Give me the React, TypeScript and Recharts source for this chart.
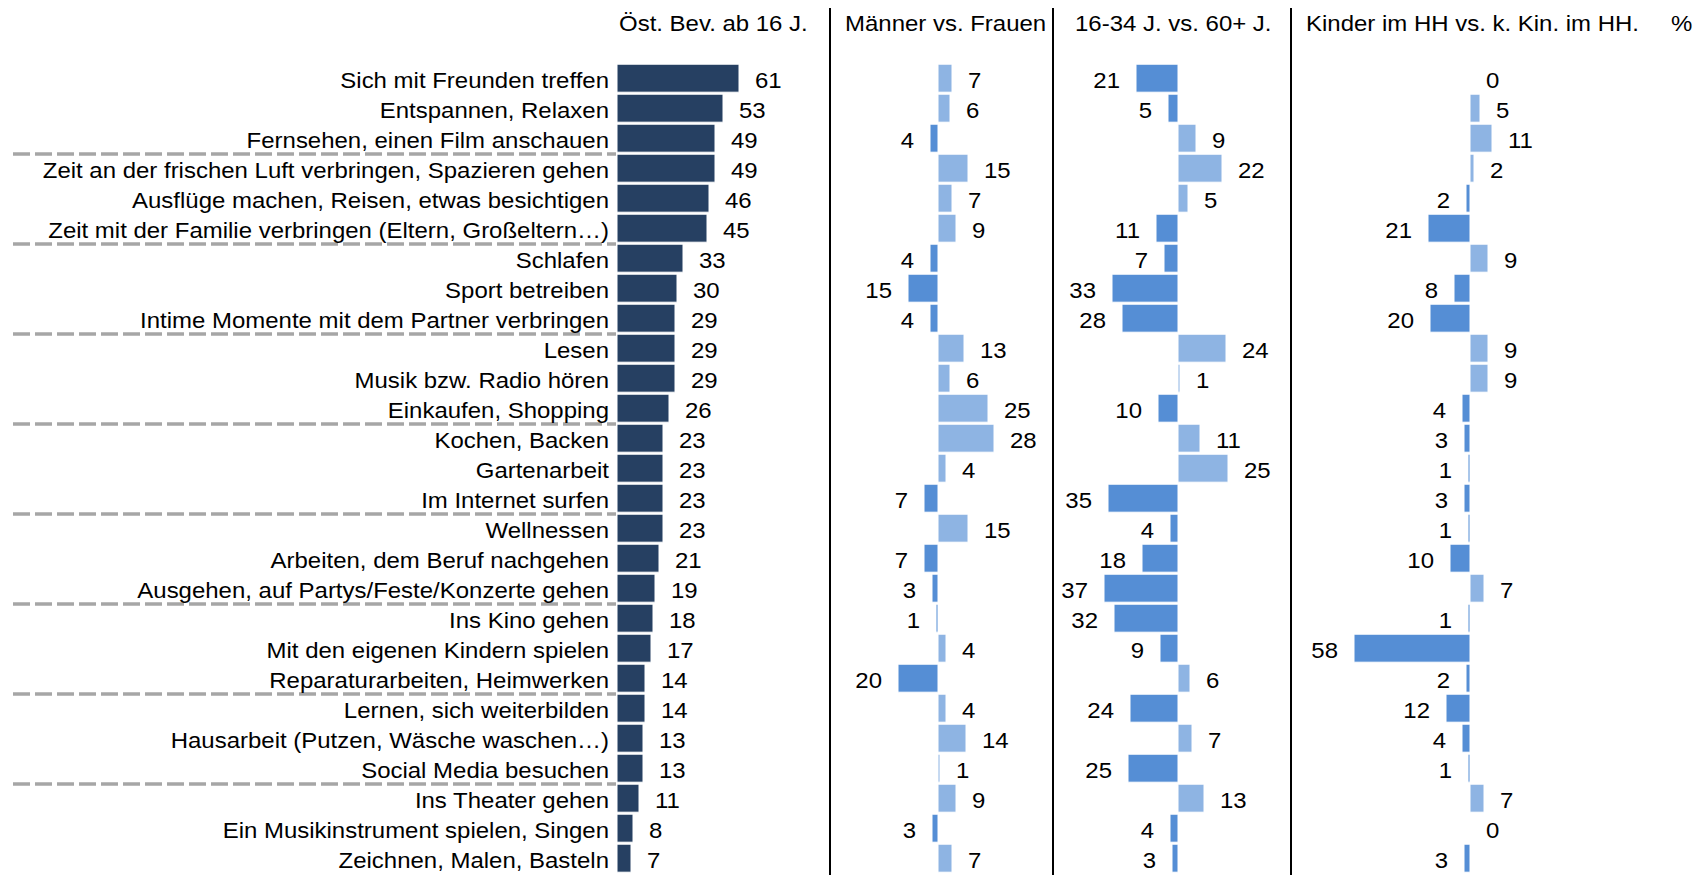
import { ComposedChart, Bar, Line, XAxis, YAxis, Cell, LabelList } from 'recharts';

const categories = [
  'Sich mit Freunden treffen',
  'Entspannen, Relaxen',
  'Fernsehen, einen Film anschauen',
  'Zeit an der frischen Luft verbringen, Spazieren gehen',
  'Ausflüge machen, Reisen, etwas besichtigen',
  'Zeit mit der Familie verbringen (Eltern, Großeltern…)',
  'Schlafen',
  'Sport betreiben',
  'Intime Momente mit dem Partner verbringen',
  'Lesen',
  'Musik bzw. Radio hören',
  'Einkaufen, Shopping',
  'Kochen, Backen',
  'Gartenarbeit',
  'Im Internet surfen',
  'Wellnessen',
  'Arbeiten, dem Beruf nachgehen',
  'Ausgehen, auf Partys/Feste/Konzerte gehen',
  'Ins Kino gehen',
  'Mit den eigenen Kindern spielen',
  'Reparaturarbeiten, Heimwerken',
  'Lernen, sich weiterbilden',
  'Hausarbeit (Putzen, Wäsche waschen…)',
  'Social Media besuchen',
  'Ins Theater gehen',
  'Ein Musikinstrument spielen, Singen',
  'Zeichnen, Malen, Basteln',
];

// Österreichische Bevölkerung ab 16 J., in %
const gesamt = [61, 53, 49, 49, 46, 45, 33, 30, 29, 29, 29, 26, 23, 23, 23, 23, 21, 19, 18, 17, 14, 14, 13, 13, 11, 8, 7];
// Differenzen: negativ = linke Gruppe höher (dunkel), positiv = rechte Gruppe höher (hell)
const maennerFrauen = [7, 6, -4, 15, 7, 9, -4, -15, -4, 13, 6, 25, 28, 4, -7, 15, -7, -3, -1, 4, -20, 4, 14, 1, 9, -3, 7];
const jungAlt = [-21, -5, 9, 22, 5, -11, -7, -33, -28, 24, 1, -10, 11, 25, -35, -4, -18, -37, -32, -9, 6, -24, 7, -25, 13, -4, -3];
const kinderHH = [0, 5, 11, 2, -2, -21, 9, -8, -20, 9, 9, -4, -3, -1, -3, -1, -10, 7, -1, -58, -2, -12, -4, -1, 7, 0, -3];

const separatorAfter = [
  'Fernsehen, einen Film anschauen',
  'Zeit mit der Familie verbringen (Eltern, Großeltern…)',
  'Intime Momente mit dem Partner verbringen',
  'Einkaufen, Shopping',
  'Im Internet surfen',
  'Ausgehen, auf Partys/Feste/Konzerte gehen',
  'Reparaturarbeiten, Heimwerken',
  'Social Media besuchen',
];

const headers = ['Öst. Bev. ab 16 J.', 'Männer vs. Frauen', '16-34 J. vs. 60+ J.', 'Kinder im HH vs. k. Kin. im HH.', '%'];

const rows = categories.map((name, i) => ({
  name,
  gesamt: gesamt[i],
  maennerFrauen: maennerFrauen[i],
  jungAlt: jungAlt[i],
  kinderHH: kinderHH[i],
}));

const NAVY = '#264062';
const DARK = '#558ed5';
const LIGHT = '#8eb4e3';
const FONT = 22;
const STRETCH = 1.09;
const H = 875;
const ROW = 30;
const MARGIN = { top: 63, right: 0, bottom: 2, left: 0 };

function CategoryTick(props: any) {
  const { x, y, payload } = props;
  const sep = separatorAfter.includes(payload.value);
  return (
    <g>
      {sep && (
        <line x1={13} x2={x + 7} y1={y + ROW / 2 + 1} y2={y + ROW / 2 + 1} stroke="#a6a6a6" strokeWidth={3.3} strokeDasharray="17 5" />
      )}
      <text transform={`translate(${x},${y}) scale(${STRETCH},1)`} textAnchor="end" dy="0.45em" fontSize={FONT} fill="#000">
        {payload.value}
      </text>
    </g>
  );
}

// label next to the end of a bar (main panel)
function BarValueLabel(props: any) {
  const { x, y, width, height, value } = props;
  const tx = Math.max(x, x + width) + 16;
  return (
    <text transform={`translate(${tx},${y + height / 2}) scale(${STRETCH},1)`} dy="0.45em" fontSize={FONT} fill="#000">
      {value}
    </text>
  );
}

// label at the value point (difference panels), left for negatives, right otherwise
function PointValueLabel(props: any) {
  const { x, y, value } = props;
  const neg = value < 0;
  const tx = x + (neg ? -16 : 16);
  return (
    <text
      transform={`translate(${tx},${y}) scale(${STRETCH},1)`}
      textAnchor={neg ? 'end' : 'start'}
      dy="0.45em"
      fontSize={FONT}
      fill="#000"
    >
      {Math.abs(value)}
    </text>
  );
}

function DiffPanel({ left, width, dataKey, domain }: { left: number; width: number; dataKey: string; domain: [number, number] }) {
  return (
    <div style={{ position: 'absolute', left, top: 0 }}>
      <ComposedChart width={width} height={H} data={rows} layout="vertical" margin={MARGIN} barCategoryGap="4%">
        <XAxis type="number" hide domain={domain} allowDataOverflow />
        <YAxis type="category" dataKey="name" hide />
        <Bar dataKey={dataKey} stroke="#ffffff" strokeWidth={1} isAnimationActive={false}>
          {rows.map((r: any, i) => (
            <Cell key={i} fill={r[dataKey] < 0 ? DARK : LIGHT} />
          ))}
        </Bar>
        <Line dataKey={dataKey} stroke="none" dot={false} activeDot={false} isAnimationActive={false}>
          <LabelList dataKey={dataKey} content={PointValueLabel} />
        </Line>
      </ComposedChart>
    </div>
  );
}

const headerX = [619, 845, 1075, 1306, 1671];
const dividerX = [830, 1053, 1291];

export default function App() {
  return (
    <div style={{ position: 'absolute', left: 0, top: 0, width: 1704, height: H, background: '#fff', fontFamily: '"Liberation Sans", Arial, sans-serif', overflow: 'hidden' }}>
      <div style={{ position: 'absolute', left: 0, top: 0 }}>
        <ComposedChart width={830} height={H} data={rows} layout="vertical" margin={{ ...MARGIN, right: 3 }} barCategoryGap="4%">
          <XAxis type="number" hide domain={[0, 105]} allowDataOverflow />
          <YAxis type="category" dataKey="name" width={617} axisLine={false} tickLine={false} interval={0} tick={(p: any) => <CategoryTick {...p} />} />
          <Bar dataKey="gesamt" fill={NAVY} stroke="#ffffff" strokeWidth={1} isAnimationActive={false}>
            <LabelList dataKey="gesamt" content={BarValueLabel} />
          </Bar>
        </ComposedChart>
      </div>
      <DiffPanel left={830} width={223} dataKey="maennerFrauen" domain={[-54, 57.5]} />
      <DiffPanel left={1053} width={238} dataKey="jungAlt" domain={[-62.5, 56.5]} />
      <DiffPanel left={1291} width={413} dataKey="kinderHH" domain={[-89.5, 117]} />
      {dividerX.map((x) => (
        <div key={x} style={{ position: 'absolute', left: x - 1, top: 8, width: 2, height: H - 8, background: '#000' }} />
      ))}
      <svg width={1704} height={50} style={{ position: 'absolute', left: 0, top: 0 }}>
        {headers.map((h, i) => (
          <text key={h} transform={`translate(${headerX[i]},31) scale(${STRETCH},1)`} fontSize={FONT} fill="#000">
            {h}
          </text>
        ))}
      </svg>
    </div>
  );
}
